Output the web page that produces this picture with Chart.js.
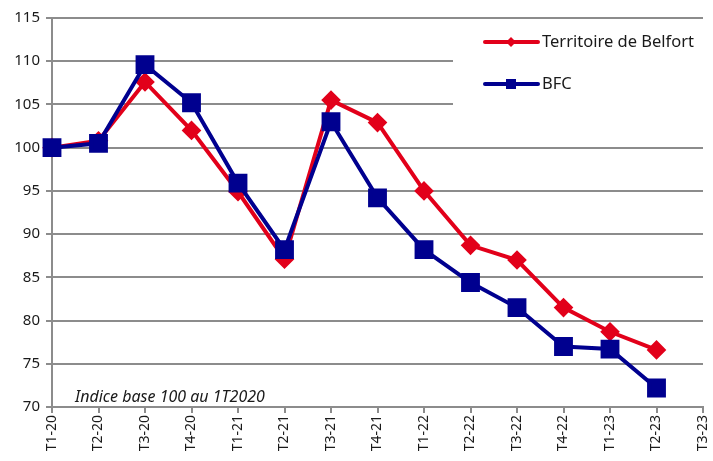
<!DOCTYPE html>
<html>
<head>
<meta charset="utf-8">
<script src="https://cdn.jsdelivr.net/npm/chart.js@4"></script>
<style>
  html, body { margin: 0; padding: 0; background: #fff; }
  canvas { display: block; }
</style>
</head>
<body>
<canvas id="chart" width="713" height="461"></canvas>
<script>
Chart.defaults.animation = false;

// --- Data ---
const quarters = ['T1-20', 'T2-20', 'T3-20', 'T4-20', 'T1-21', 'T2-21', 'T3-21', 'T4-21',
                  'T1-22', 'T2-22', 'T3-22', 'T4-22', 'T1-23', 'T2-23', 'T3-23'];
const belfort = [100, 100.8, 107.6, 102.0, 94.9, 87.1, 105.5, 102.9, 95.0, 88.7, 87.0, 81.5, 78.7, 76.6, null];
const bfc = [100, 100.5, 109.6, 105.2, 95.9, 88.2, 103.0, 94.2, 88.2, 84.4, 81.5, 77.0, 76.7, 72.2, null];
const seriesNames = ['Territoire de Belfort', 'BFC'];
const note = 'Indice base 100 au 1T2020';

const RED = '#e2001a';
const BLUE = '#00008f';
const GRID = '#8c8c8c';
const FONT = '"Noto Sans", sans-serif';
const PLOT_RIGHT = 703;

// --- Stretch the plot area to the right edge (rotated last label may overflow) ---
const stretchRight = {
  id: 'stretchRight',
  afterLayout(chart) {
    try {
      const x = chart.scales.x;
      if (!x) return;
      x.right = PLOT_RIGHT;
      x.width = PLOT_RIGHT - x.left;
      x.configure();
      chart.chartArea.right = PLOT_RIGHT;
      chart.chartArea.width = PLOT_RIGHT - chart.chartArea.left;
    } catch (e) { /* keep default layout */ }
  }
};

// --- Legend drawn over the plot (white box hides the grid behind it) ---
const legendBox = {
  id: 'legendBox',
  afterDraw(chart) {
    const ctx = chart.ctx;
    ctx.save();
    ctx.fillStyle = '#fff';
    ctx.fillRect(453, 26, 256, 86);

    const items = [
      { label: seriesNames[0], color: RED, y: 42, style: 'diamond' },
      { label: seriesNames[1], color: BLUE, y: 84, style: 'square' }
    ];
    items.forEach(it => {
      ctx.strokeStyle = it.color;
      ctx.lineWidth = 4;
      ctx.lineCap = 'round';
      ctx.beginPath();
      ctx.moveTo(485, it.y);
      ctx.lineTo(538, it.y);
      ctx.stroke();
      ctx.fillStyle = it.color;
      if (it.style === 'diamond') {
        ctx.beginPath();
        ctx.moveTo(511, it.y - 5);
        ctx.lineTo(516, it.y);
        ctx.lineTo(511, it.y + 5);
        ctx.lineTo(506, it.y);
        ctx.closePath();
        ctx.fill();
      } else {
        ctx.fillRect(506, it.y - 5, 10, 10);
      }
      ctx.fillStyle = '#1a1a1a';
      ctx.font = '16.5px ' + FONT;
      ctx.textAlign = 'left';
      ctx.textBaseline = 'middle';
      ctx.fillText(it.label, 542, it.y);
    });

    // note in the lower left corner
    ctx.font = 'italic 16px ' + FONT;
    ctx.fillStyle = '#1a1a1a';
    ctx.textBaseline = 'alphabetic';
    ctx.fillText(note, 75, 402);
    ctx.restore();
  }
};

new Chart(document.getElementById('chart').getContext('2d'), {
  type: 'line',
  data: {
    labels: quarters,
    datasets: [
      {
        label: seriesNames[0],
        data: belfort,
        order: 1,
        borderColor: RED,
        backgroundColor: RED,
        borderWidth: 4,
        pointStyle: 'rectRot',
        pointRadius: 7,
        pointHoverRadius: 7,
        tension: 0
      },
      {
        label: seriesNames[1],
        data: bfc,
        order: 0,
        borderColor: BLUE,
        backgroundColor: BLUE,
        borderWidth: 4,
        pointStyle: 'rect',
        pointRadius: 10.5,
        pointHoverRadius: 10.5,
        tension: 0
      }
    ]
  },
  options: {
    responsive: false,
    layout: {
      autoPadding: false,
      padding: { top: 18, right: 10, left: 0, bottom: 0 }
    },
    plugins: {
      legend: { display: false },
      tooltip: { enabled: false }
    },
    scales: {
      x: {
        offset: false,
        grid: {
          drawOnChartArea: false,
          drawTicks: true,
          tickLength: 6,
          color: GRID,
          lineWidth: 2
        },
        border: { color: GRID, width: 2 },
        ticks: {
          minRotation: 90,
          maxRotation: 90,
          autoSkip: false,
          color: '#1a1a1a',
          font: { family: FONT, size: 14 },
          padding: 2
        },
        afterFit(scale) { scale.height = 54; }
      },
      y: {
        min: 70,
        max: 115,
        ticks: {
          stepSize: 5,
          color: '#1a1a1a',
          font: { family: FONT, size: 15 },
          padding: 6
        },
        grid: {
          color: GRID,
          lineWidth: 2,
          tickLength: 6
        },
        border: { color: GRID, width: 2 },
        afterFit(scale) { scale.width = 52; }
      }
    }
  },
  plugins: [stretchRight, legendBox]
});
</script>
</body>
</html>
